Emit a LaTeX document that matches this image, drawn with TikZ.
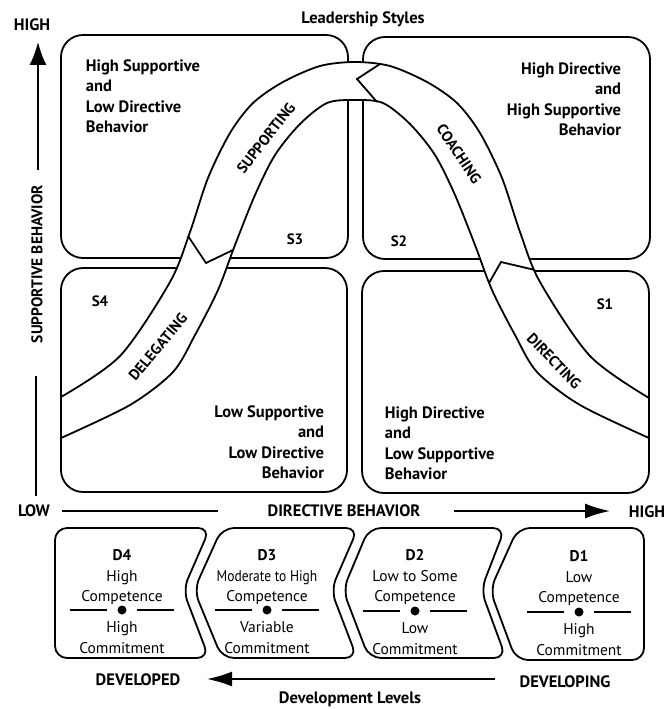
\documentclass[tikz,border=0pt]{standalone}
\usepackage{fontspec}
\setmainfont{PT Sans}
\usetikzlibrary{arrows.meta}

\begin{document}
\begin{tikzpicture}[x=1pt,y=-1pt,line width=1.8pt,
  quadbox/.style={draw,rounded corners=22pt},
  devbox/.style={draw,rounded corners=12pt},
  band/.style={draw,fill=white,line join=round},
  headtext/.style={font=\fontsize{16.5}{18}\selectfont\bfseries,inner sep=0pt},
  stext/.style={font=\fontsize{15}{17}\selectfont\bfseries,inner sep=0pt},
  quadtext/.style={font=\fontsize{16.5}{20.2}\selectfont\bfseries,inner sep=0pt},
  bandtext/.style={font=\fontsize{15}{17}\selectfont\bfseries,inner sep=0pt},
  devtext/.style={font=\fontsize{15.5}{20.5}\selectfont,inner sep=0pt,align=center,anchor=north},
  dot/.style={circle,fill,inner sep=0pt,minimum size=9pt}]

\useasboundingbox (0,0) rectangle (664,709);

%% quadrants
\draw[quadbox] (61,35) rectangle (348,258);    %% S3
\draw[quadbox] (363,37) rectangle (650,259);   %% S2
\draw[quadbox] (61,268) rectangle (347,492);   %% S4
\draw[quadbox] (362,271) rectangle (649,493);  %% S1

%% curve of styles
\draw[band] plot[smooth] coordinates {(61,397) (120,356) (170,282) (190,232) (208,178) (230,133) (253,103) (283,82) (320,66) (355,62) (390,66) (427,82) (457,103) (480,133) (502,178) (520,232) (540,282) (590,356) (649,398)}
  -- plot[smooth] coordinates {(649,438) (580,405) (537,372) (515,335) (492,290) (475,245) (455,195) (435,155) (410,124) (383,103) (355,100) (327,103) (300,124) (275,155) (255,195) (235,245) (218,290) (195,335) (173,372) (130,405) (61,438)}
  -- cycle;
\draw (380,64) -- (357,79) -- (377,102);   %% coaching / supporting
\draw (188,236) -- (206,263) -- (233,250);  %% supporting / delegating
\draw (489,283) -- (501,262) -- (535,270);  %% directing / coaching

%% style names
\node[bandtext,rotate=52] (supporting) at (266,138) {SUPPORTING};
\node[bandtext,rotate=-56] (coaching) at (459,154) {COACHING};
\node[bandtext,rotate=50] (delegating) at (158,347) {DELEGATING};
\node[bandtext,rotate=-46] (directing) at (554,361) {DIRECTING};

\node[stext] (s1) at (605,304) {S1};
\node[stext] (s2) at (399,241) {S2};
\node[stext] (s3) at (295,239) {S3};
\node[stext] (s4) at (100,301) {S4};

%% quadrant texts
\node[quadtext,anchor=north west,align=left] (q3) at (85,59) {High Supportive\\and\\Low Directive\\Behavior};
\node[quadtext,anchor=north east,align=right] (q2) at (622,62) {High Directive\\and\\High Supportive\\Behavior};
\node[quadtext,anchor=north east,align=right] (q4) at (325,405) {Low Supportive\\and\\Low Directive\\Behavior};
\node[quadtext,anchor=north west,align=left] (q1) at (384,406) {High Directive\\and\\Low Supportive\\Behavior};

%% axes
\node[headtext] (title) at (363,19) {Leadership Styles};
\node[headtext] (highy) at (32,25) {HIGH};
\node[headtext,font=\fontsize{15.5}{18}\selectfont\bfseries,rotate=90] (suplab) at (37,264) {SUPPORTIVE BEHAVIOR};
\coordinate (suptip) at (38,42);
\coordinate (supup) at (38,170);
\coordinate (supdown) at (36,376);
\coordinate (suplow) at (36,496);
\draw[-{Latex[length=23pt,width=17pt]}] (supup) -- (suptip);
\draw (supdown) -- (suplow);

\node[headtext] (low) at (34,511) {LOW};
\node[headtext] (dirlab) at (344,511) {DIRECTIVE BEHAVIOR};
\node[headtext,anchor=west] (highx) at (628,512) {HIGH};
\coordinate (dirstart) at (62,511);
\coordinate (dirleft) at (218,511);
\coordinate (dirright) at (454,511);
\coordinate (dirtip) at (610,511);
\draw (dirstart) -- (dirleft);
\draw[-{Latex[length=25pt,width=15pt]}] (dirright) -- (dirtip);

%% development levels
\draw[devbox] (130,528) -- (210,528) -- (183,590) -- (209,658) -- (55,658) -- (55,528) -- cycle;            %% D4
\draw[devbox] (290,528) -- (358,528) -- (331,590) -- (357,658) -- (222,658) -- (194,590) -- (222,528) -- cycle; %% D3
\draw[devbox] (430,528) -- (505,528) -- (481,590) -- (506,658) -- (369,658) -- (343,590) -- (369,528) -- cycle; %% D2
\draw[devbox] (580,528) -- (644,528) -- (644,660) -- (516,660) -- (490,590) -- (518,528) -- cycle;            %% D1

\node[devtext] (d4top) at (122,549) {\textbf{D4}\\High\\Competence};
\node[devtext] (d3top) at (267,549) {\textbf{D3}\\\scalebox{0.87}[1]{Moderate to High}\\Competence};
\node[devtext] (d2top) at (415,549) {\textbf{D2}\\Low to Some\\Competence};
\node[devtext] (d1top) at (579,550) {\textbf{D1}\\Low\\Competence};

\node[dot] (d4dot) at (122,610) {};
\node[dot] (d3dot) at (267,610) {};
\node[dot] (d2dot) at (415,611) {};
\node[dot] (d1dot) at (579,612) {};
\draw (d4dot.center) ++(-15,0) -- ++(-37,0);  \draw (d4dot.center) ++(15,0) -- ++(37,0);
\draw (d3dot.center) ++(-15,0) -- ++(-37,0);  \draw (d3dot.center) ++(15,0) -- ++(37,0);
\draw (d2dot.center) ++(-15,0) -- ++(-37,0);  \draw (d2dot.center) ++(15,0) -- ++(37,0);
\draw (d1dot.center) ++(-15,0) -- ++(-37,0);  \draw (d1dot.center) ++(15,0) -- ++(37,0);

\node[devtext] (d4bot) at (122,621) {High\\Commitment};
\node[devtext] (d3bot) at (267,621) {Variable\\Commitment};
\node[devtext] (d2bot) at (415,622) {Low\\Commitment};
\node[devtext] (d1bot) at (579,623) {High\\Commitment};

\node[headtext] (developed) at (138,680) {DEVELOPED};
\node[headtext] (developing) at (565,682) {DEVELOPING};
\node[headtext] (levels) at (350,699) {Development Levels};
\coordinate (devstart) at (495,679);
\coordinate (devtip) at (207,679);
\draw[-{Latex[length=25pt,width=15pt]}] (devstart) -- (devtip);

\end{tikzpicture}
\end{document}
